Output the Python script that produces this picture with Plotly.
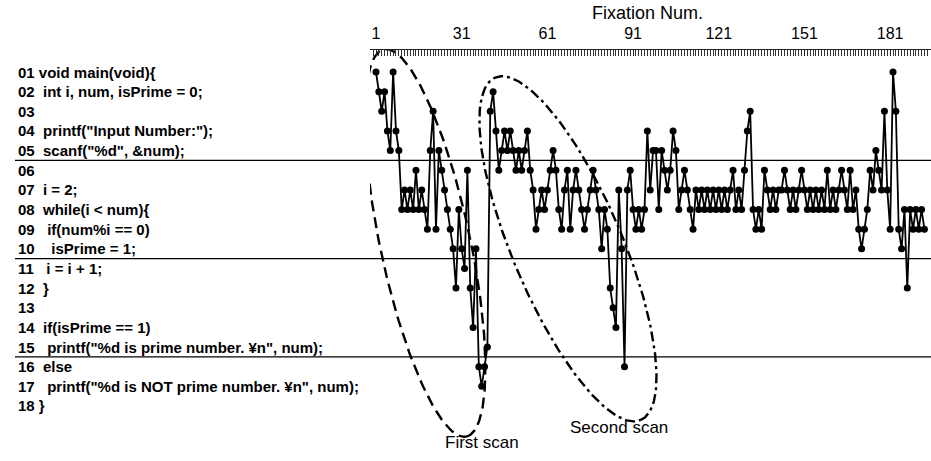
import numpy as np
import plotly.graph_objects as go

# Source line (01-18) looked at by each successive fixation
fixation_lines = [
    1, 2, 3, 2, 4, 5, 1, 4, 5, 8,
    7, 8, 7, 8, 6, 8, 7, 8, 9, 5,
    3, 9, 5, 6, 7, 8, 9, 10, 12, 8,
    10, 11, 6, 12, 14, 10, 16, 17, 16, 15,
    3, 2, 4, 6, 5, 4, 5, 4, 5, 6,
    5, 6, 5, 4, 6, 7, 9, 8, 7, 8,
    7, 6, 5, 6, 8, 9, 7, 6, 9, 7,
    6, 7, 8, 9, 8, 7, 6, 7, 8, 10,
    8, 9, 12, 13, 14, 7, 10, 16, 7, 6,
    8, 9, 8, 9, 8, 4, 7, 5, 5, 8,
    5, 6, 7, 6, 4, 5, 8, 7, 6, 7,
    8, 9, 7, 8, 7, 8, 7, 8, 7, 8,
    7, 8, 7, 8, 7, 6, 8, 7, 8, 6,
    4, 3, 8, 9, 8, 9, 6, 7, 8, 7,
    8, 7, 7, 6, 7, 8, 7, 8, 7, 6,
    7, 8, 7, 8, 7, 8, 7, 8, 6, 8,
    7, 8, 7, 6, 7, 8, 6, 8, 7, 9,
    10, 9, 8, 6, 7, 5, 6, 7, 3, 7,
    9, 1, 3, 9, 10, 8, 12, 8, 9, 8,
    9, 8, 9,
]
fixation_num = list(range(1, len(fixation_lines) + 1))

# Program shown alongside the scan path; leading spaces give the indentation
code_text = [
    "01 void main(void){",
    "02  int i, num, isPrime = 0;",
    "03",
    "04  printf(\"Input Number:\");",
    "05  scanf(\"%d\", &amp;num);",
    "06",
    "07  i = 2;",
    "08  while(i &lt; num){",
    "09   if(num%i == 0)",
    "10    isPrime = 1;",
    "11   i = i + 1;",
    "12  }",
    "13",
    "14  if(isPrime == 1)",
    "15   printf(\"%d is prime number. ¥n\", num);",
    "16  else",
    "17   printf(\"%d is NOT prime number. ¥n\", num);",
    "18 }",
]
code_rows = list(range(1, len(code_text) + 1))

x_tick_vals = [1, 31, 61, 91, 121, 151, 181]
x_title = "Fixation Num."
block_breaks = [5.5, 10.5, 15.5]

# Scan groupings: centre (fixation, line), half length / half width in px, tilt in degrees
scan_groups = [
    dict(name="First scan", center=(18.2, 9.7), half_len=198, half_wid=45, tilt=12,
         dash="11px,6px", label_at=(38.0, 19.85)),
    dict(name="Second scan", center=(68.2, 10.0), half_len=186, half_wid=55, tilt=23,
         dash="10px,4px,3px,4px", label_at=(86.0, 19.1)),
]

W, H = 931, 461
M_L, M_T = 370, 50
plot_w, plot_h = W - M_L, H - M_T
x_range = [-1.1, 195.3]
y_range = [20.8, -0.12]  # reversed: line 01 at the top

FONT = "Arial, 'Liberation Sans', sans-serif"


def to_px(f, r):
    px = M_L + (f - x_range[0]) / (x_range[1] - x_range[0]) * plot_w
    py = M_T + (r - y_range[1]) / (y_range[0] - y_range[1]) * plot_h
    return px, py


def to_data(px, py):
    f = x_range[0] + (px - M_L) / plot_w * (x_range[1] - x_range[0])
    r = y_range[1] + (py - M_T) / plot_h * (y_range[0] - y_range[1])
    return f, r


def tilted_ellipse(center, half_len, half_wid, tilt):
    cx, cy = to_px(*center)
    th = np.radians(tilt)
    ux, uy = np.sin(th), np.cos(th)
    nx, ny = np.cos(th), -np.sin(th)
    t = np.linspace(0, 2 * np.pi, 241)
    px = cx + half_len * np.cos(t) * ux + half_wid * np.sin(t) * nx
    py = cy + half_len * np.cos(t) * uy + half_wid * np.sin(t) * ny
    return to_data(px, py)


fig = go.Figure()

for g in scan_groups:
    ex, ey = tilted_ellipse(g["center"], g["half_len"], g["half_wid"], g["tilt"])
    fig.add_trace(go.Scatter(
        x=ex, y=ey, mode="lines",
        line=dict(color="black", width=2.4, dash=g["dash"]),
        hoverinfo="skip", showlegend=False, cliponaxis=False,
    ))
    fig.add_annotation(
        x=g["label_at"][0], y=g["label_at"][1], xref="x", yref="y",
        text=g["name"], showarrow=False, xanchor="center", yanchor="middle",
        font=dict(family=FONT, size=17, color="black"),
    )

fig.add_trace(go.Scatter(
    x=fixation_num, y=fixation_lines, mode="lines+markers",
    line=dict(color="black", width=1.8),
    marker=dict(color="black", size=7),
    showlegend=False, cliponaxis=False,
))

code_x0 = (16 - M_L) / plot_w
for row, txt in zip(code_rows, code_text):
    fig.add_annotation(
        x=code_x0, y=row, xref="paper", yref="y",
        text="<b>" + txt.replace(" ", "\u00a0") + "</b>",
        showarrow=False, xanchor="left", yanchor="middle",
        font=dict(family=FONT, size=15, color="black"),
    )

line_x0 = (15 - M_L) / plot_w
for yb in block_breaks:
    fig.add_shape(type="line", xref="paper", yref="y",
                  x0=line_x0, x1=1, y0=yb, y1=yb,
                  line=dict(color="black", width=1.4))

# axis title placed above the tick labels
fig.add_annotation(
    x=(647.5 - M_L) / plot_w, y=1 + (M_T - 13) / plot_h, xref="paper", yref="paper",
    text=x_title, showarrow=False, xanchor="center", yanchor="middle",
    font=dict(family=FONT, size=18, color="black"),
)

fig.update_layout(
    width=W, height=H,
    margin=dict(l=M_L, r=0, t=M_T, b=0, pad=0),
    paper_bgcolor="white", plot_bgcolor="white",
    font=dict(family=FONT, color="black"),
    xaxis=dict(
        side="top", range=x_range, tickvals=x_tick_vals,
        showline=True, linecolor="#222", linewidth=1.2,
        ticks="inside", ticklen=6, tickcolor="#222", tickwidth=1,
        minor=dict(dtick=1, tick0=1, ticks="inside", ticklen=6, tickcolor="#333", tickwidth=1),
        showgrid=False, zeroline=False, ticklabelstandoff=4,
        tickfont=dict(family=FONT, size=16, color="black"),
    ),
    yaxis=dict(range=y_range, visible=False, showgrid=False, zeroline=False),
)

fig.write_html("out.html")
